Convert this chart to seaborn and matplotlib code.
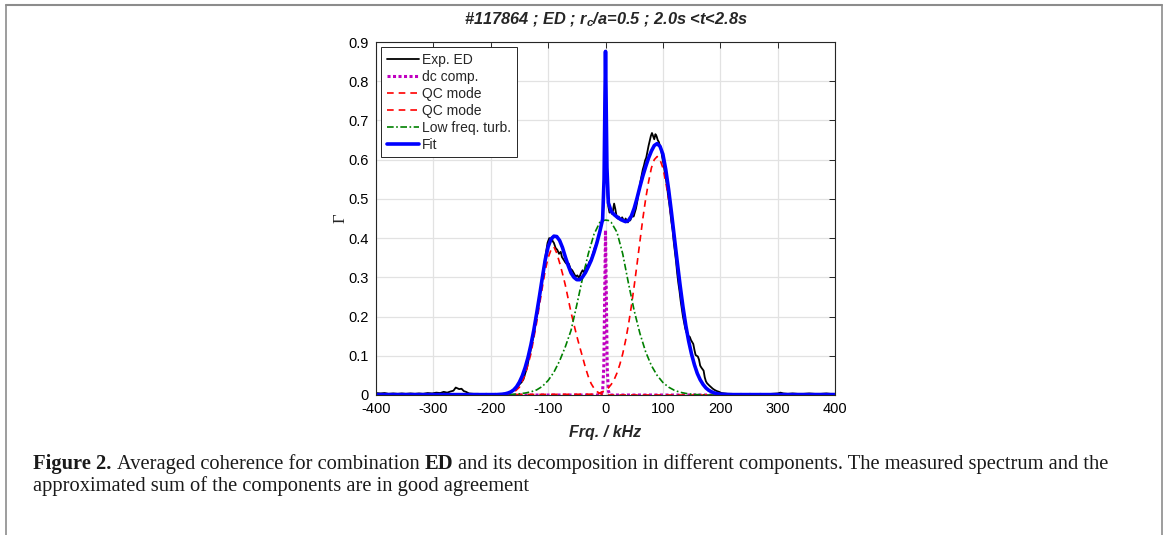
import matplotlib
matplotlib.use('Agg')
import matplotlib.pyplot as plt
from matplotlib.lines import Line2D
import seaborn as sns

# ---------------------------------------------------------------------------
# Data
# ---------------------------------------------------------------------------
EXP_FREQ = [-400, -392, -385, -378, -370, -362, -355, -348, -340, -332, -325, -318,
            -310, -302, -295, -288, -282, -276, -270, -265, -261, -258, -255, -251,
            -247, -243, -238, -230, -222, -215, -208, -200, -192, -185, -178, -172,
            -166, -162, -158, -154, -150, -146, -143, -140, -137, -134, -131, -128,
            -125, -122, -119, -116, -113, -110, -107, -104, -101, -98, -96, -94, -92,
            -90, -87, -84, -81, -78, -76, -73, -70, -67, -64, -61, -58, -55, -52, -49,
            -46, -43, -40, -37, -34, -31, -28, -25, -22, -19, -16, -13, -10, -7, -5,
            -3, -2, -1, 0, 1, 2, 3, 5, 7, 9, 11, 13, 15, 17, 19, 21, 23, 25, 27, 29,
            31, 33, 35, 37, 39, 41, 43, 45, 47, 49, 51, 53, 55, 57, 59, 61, 63, 65,
            67, 69, 71, 73, 75, 77, 79, 81, 83, 85, 87, 89, 91, 93, 95, 97, 99, 101,
            103, 105, 107, 109, 111, 113, 115, 117, 119, 121, 123, 125, 127, 129, 131,
            133, 135, 137, 139, 141, 143, 145, 147, 149, 151, 153, 155, 157, 159, 161,
            163, 165, 167, 169, 171, 173, 175, 177, 179, 181, 184, 187, 190, 194, 198,
            202, 207, 213, 220, 228, 236, 244, 252, 260, 270, 280, 290, 300, 305, 310,
            318, 326, 335, 345, 355, 365, 375, 385, 392, 400]
EXP_COH = [0.005, 0.004, 0.005, 0.003, 0.004, 0.003, 0.004, 0.003, 0.004, 0.003, 0.004, 0.003,
           0.005, 0.004, 0.006, 0.005, 0.008, 0.006, 0.009, 0.011, 0.019, 0.017, 0.015, 0.016,
           0.010, 0.008, 0.004, 0.003, 0.003, 0.002, 0.003, 0.002, 0.003, 0.002, 0.003, 0.004,
           0.006, 0.010, 0.014, 0.020, 0.027, 0.033, 0.040, 0.055, 0.068, 0.090, 0.110, 0.135,
           0.150, 0.190, 0.205, 0.235, 0.270, 0.300, 0.330, 0.360, 0.388, 0.400, 0.395, 0.402, 0.392,
           0.388, 0.375, 0.370, 0.360, 0.365, 0.352, 0.345, 0.338, 0.333, 0.335, 0.322, 0.318, 0.310, 0.302, 0.305,
           0.298, 0.310, 0.318, 0.312, 0.330, 0.328, 0.340, 0.345, 0.360, 0.375, 0.385, 0.400, 0.415, 0.435, 0.450,
           0.500, 0.620, 0.800, 0.870, 0.800, 0.600, 0.520, 0.480, 0.465, 0.475, 0.462, 0.470, 0.488, 0.475, 0.458, 0.450, 0.455, 0.448, 0.445, 0.453,
           0.447, 0.442, 0.450, 0.445, 0.440, 0.448, 0.445, 0.452, 0.458, 0.455, 0.465, 0.475, 0.490, 0.510, 0.525, 0.545, 0.560, 0.575,
           0.585, 0.598, 0.605, 0.620, 0.635, 0.648, 0.660, 0.668, 0.660, 0.652, 0.665, 0.660, 0.650, 0.645, 0.635, 0.625, 0.605, 0.590,
           0.572, 0.555, 0.535, 0.510, 0.490, 0.465, 0.440, 0.420, 0.390, 0.365, 0.340, 0.310, 0.285, 0.265, 0.240,
           0.220, 0.200, 0.185, 0.170, 0.160, 0.155, 0.150, 0.148, 0.140, 0.135, 0.130, 0.115, 0.102, 0.100, 0.098,
           0.090, 0.075, 0.070, 0.066, 0.062, 0.045, 0.035, 0.030, 0.027, 0.024, 0.020, 0.016, 0.013, 0.010, 0.008,
           0.005, 0.004, 0.003, 0.003, 0.002, 0.003, 0.002, 0.003, 0.002, 0.003, 0.002, 0.003, 0.004, 0.006, 0.004,
           0.003, 0.004, 0.003, 0.003, 0.004, 0.003, 0.003, 0.004, 0.003, 0.003]

DC_FREQ = [-400, -8, -5, -3, -1.5, 0, 1.5, 3, 5, 8, 400]
DC_COH = [0, 0, 0.01, 0.07, 0.25, 0.42, 0.25, 0.07, 0.01, 0, 0]

QC1_FREQ = [-400, -180, -170, -160, -150, -140, -130, -120, -110, -105, -100, -95, -90, -85,
            -80, -75, -70, -65, -60, -55, -50, -45, -40, -35, -30, -25, -20, -15, -10, -5,
            0, 10, 400]
QC1_COH = [0, 0.001, 0.002, 0.006, 0.020, 0.052, 0.105, 0.185, 0.275, 0.318, 0.350, 0.370, 0.378, 0.362,
           0.337, 0.310, 0.280, 0.245, 0.210, 0.180, 0.150, 0.123, 0.097, 0.070, 0.047, 0.029, 0.017, 0.009, 0.004, 0.001,
           0, 0, 0]

QC2_FREQ = [-400, -20, -10, 0, 5, 10, 15, 20, 25, 30, 35, 40, 45, 50, 55, 60, 65, 70, 75, 80,
            85, 90, 95, 100, 105, 110, 115, 120, 125, 130, 135, 140, 145, 150, 155, 160, 165,
            170, 175, 180, 190, 200, 220, 400]
QC2_COH = [0, 0.002, 0.005, 0.012, 0.018, 0.027, 0.039, 0.056, 0.078, 0.105, 0.139, 0.179, 0.226, 0.278,
           0.334, 0.392, 0.449, 0.500, 0.543, 0.579, 0.600, 0.608, 0.600, 0.579, 0.543, 0.500, 0.449, 0.392,
           0.334, 0.278, 0.226, 0.179, 0.139, 0.105, 0.078, 0.056, 0.039, 0.027, 0.018, 0.012, 0.005, 0.002, 0, 0]

TURB_FREQ = [-400, -200, -180, -160, -150, -140, -130, -120, -110, -100, -90, -80, -70, -60,
             -50, -40, -30, -20, -10, -5, 0, 5, 10, 20, 30, 40, 50, 60, 70, 80, 90, 100, 110,
             120, 130, 140, 150, 160, 180, 200, 400]
TURB_COH = [0, 0, 0.001, 0.002, 0.003, 0.005, 0.008, 0.013, 0.022, 0.037, 0.058, 0.087, 0.123, 0.165,
            0.230, 0.298, 0.360, 0.410, 0.440, 0.444, 0.446, 0.445, 0.440, 0.415, 0.360, 0.285, 0.215, 0.157, 0.110,
            0.075, 0.050, 0.032, 0.020, 0.012, 0.007, 0.004, 0.002, 0.001, 0, 0, 0]

FIT_FREQ = [-400, -200, -190, -180, -175, -170, -165, -160, -155, -150, -145, -140, -135, -130,
            -125, -120, -115, -110, -105, -100, -95, -90, -85, -80, -75, -70, -65, -60, -55, -50,
            -45, -40, -35, -30, -25, -20, -15, -10, -5, -2.5, 0, 2.5, 5, 10, 15, 20, 25, 30, 35,
            40, 45, 50, 55, 60, 65, 70, 75, 80, 85, 90, 95, 100, 105, 110, 115, 120, 125, 130,
            135, 140, 145, 150, 155, 160, 165, 170, 175, 180, 185, 190, 200, 220, 400]
FIT_COH = [0.001, 0.001, 0.001, 0.002, 0.003, 0.005, 0.008, 0.013, 0.021, 0.033, 0.049, 0.070, 0.096, 0.128,
           0.165, 0.208, 0.253, 0.300, 0.345, 0.378, 0.397, 0.405, 0.404, 0.394, 0.376, 0.352, 0.330, 0.311, 0.300, 0.294,
           0.294, 0.301, 0.312, 0.327, 0.343, 0.364, 0.388, 0.416, 0.448, 0.550, 0.876, 0.580, 0.490, 0.468, 0.460, 0.454, 0.449, 0.445, 0.442,
           0.445, 0.456, 0.476, 0.502, 0.531, 0.558, 0.582, 0.604, 0.622, 0.636, 0.641, 0.634, 0.614, 0.575, 0.524, 0.465, 0.402, 0.340, 0.280,
           0.225, 0.177, 0.137, 0.104, 0.077, 0.055, 0.039, 0.027, 0.018, 0.012, 0.008, 0.005, 0.002, 0.001, 0.001]

X_TICKS = [-400, -300, -200, -100, 0, 100, 200, 300, 400]
Y_TICKS = [0, 0.1, 0.2, 0.3, 0.4, 0.5, 0.6, 0.7, 0.8, 0.9]
Y_TICK_LABELS = ['0', '0.1', '0.2', '0.3', '0.4', '0.5', '0.6', '0.7', '0.8', '0.9']

# ---------------------------------------------------------------------------
# Style
# ---------------------------------------------------------------------------
sns.set_style('white')
plt.rcParams['font.family'] = ['Liberation Sans', 'DejaVu Sans']
plt.rcParams['axes.unicode_minus'] = False
plt.rcParams['mathtext.fontset'] = 'custom'
plt.rcParams['mathtext.rm'] = 'Liberation Sans'
plt.rcParams['mathtext.it'] = 'Liberation Sans:italic'
plt.rcParams['mathtext.bf'] = 'Liberation Sans:bold'
plt.rcParams['mathtext.bfit'] = 'Liberation Sans:italic:bold'

W, H = 1166, 535
fig = plt.figure(figsize=(W / 100, H / 100), dpi=100)
ax = fig.add_axes([376 / W, 140 / H, 459 / W, 353 / H])

line_specs = [
    (EXP_FREQ, EXP_COH, 'Exp. ED', '#000000', 1.3, '-'),
    (DC_FREQ, DC_COH, 'dc comp.', '#c000c0', 2.2, (0, (1, 0.8))),
    (QC1_FREQ, QC1_COH, 'QC mode', '#ff0000', 1.2, (0, (4, 3))),
    (QC2_FREQ, QC2_COH, 'QC mode', '#ff0000', 1.2, (0, (4, 3))),
    (TURB_FREQ, TURB_COH, 'Low freq. turb.', '#008000', 1.2, (0, (4, 1.5, 1, 1.5))),
    (FIT_FREQ, FIT_COH, 'Fit', '#0000ff', 2.6, '-'),
]
for xs, ys, lab, col, lw, ls in line_specs:
    sns.lineplot(x=xs, y=ys, ax=ax, color=col, linewidth=lw, linestyle=ls,
                 label=lab, estimator=None, errorbar=None)

ax.set_xlim(-400, 400)
ax.set_ylim(0, 0.9)
ax.set_xticks(X_TICKS)
ax.set_xticklabels([str(t) for t in X_TICKS])
ax.set_yticks(Y_TICKS)
ax.set_yticklabels(Y_TICK_LABELS)
ax.tick_params(direction='in', length=4, width=0.7, top=True, right=True,
               labelsize=10.5, colors='#262626', pad=5)
ax.tick_params(axis='both', labelcolor='#000000')
for sp in ax.spines.values():
    sp.set_color('#262626')
    sp.set_linewidth(0.8)
ax.grid(True, color='#e2e2e2', linewidth=0.9)
ax.set_axisbelow(True)

ax.set_xlabel('Frq. / kHz', fontsize=11.5, fontweight='bold', fontstyle='italic')
ax.xaxis.set_label_coords(0.5, -(432 - 395) / 353)
ax.xaxis.label.set_va('center')
ax.set_ylabel('\u0393', fontsize=12, family='Liberation Serif')
ax.yaxis.set_label_coords(-(376 - 341) / 459, 0.5)
ax.yaxis.label.set_va('center')

ax.text(0.5, 1 + 22 / 353,
        '#117864 ; ED ; $\\mathbfit{r_c}$/a=0.5 ; 2.0s <t<2.8s',
        transform=ax.transAxes, ha='center', va='center',
        fontsize=11.8, fontweight='bold', fontstyle='italic')

leg = ax.legend(loc='upper left', bbox_to_anchor=(5 / 459, 1 - 5 / 353),
                borderaxespad=0, fontsize=10, handlelength=2.3, handletextpad=0.25,
                labelspacing=0.22, borderpad=0.4, fancybox=False, framealpha=1)
leg.get_frame().set_edgecolor('#262626')
leg.get_frame().set_linewidth(0.7)

# page frame
frame_col = '#8c8c8c'
fig.add_artist(Line2D([6 / W, 1162 / W], [1 - 5 / H, 1 - 5 / H], color=frame_col, lw=1.5))
fig.add_artist(Line2D([6 / W, 6 / W], [0, 1 - 5 / H], color=frame_col, lw=1.2))
fig.add_artist(Line2D([1162 / W, 1162 / W], [0, 1 - 5 / H], color=frame_col, lw=1.2))

# caption
cap_size = 14.8
cap = dict(family='Liberation Serif', fontsize=cap_size, color='#1a1a1a')
gap = 0.25 * cap_size
t1 = fig.text(33 / W, (H - 469) / H, 'Figure 2.', fontweight='bold', va='baseline', **cap)
t2 = plt.annotate('Averaged coherence for combination', xy=(1, 0), xycoords=t1,
                  xytext=(gap, 0), textcoords='offset points', va='bottom', **cap)
t3 = plt.annotate('ED', xy=(1, 0), xycoords=t2, xytext=(gap, 0),
                  textcoords='offset points', va='bottom', fontweight='bold', **cap)
plt.annotate('and its decomposition in different components. The measured spectrum and the',
             xy=(1, 0), xycoords=t3, xytext=(gap, 0), textcoords='offset points',
             va='bottom', **cap)
fig.text(33 / W, (H - 491) / H, 'approximated sum of the components are in good agreement',
         va='baseline', **cap)

fig.savefig('out.png', dpi=100)
